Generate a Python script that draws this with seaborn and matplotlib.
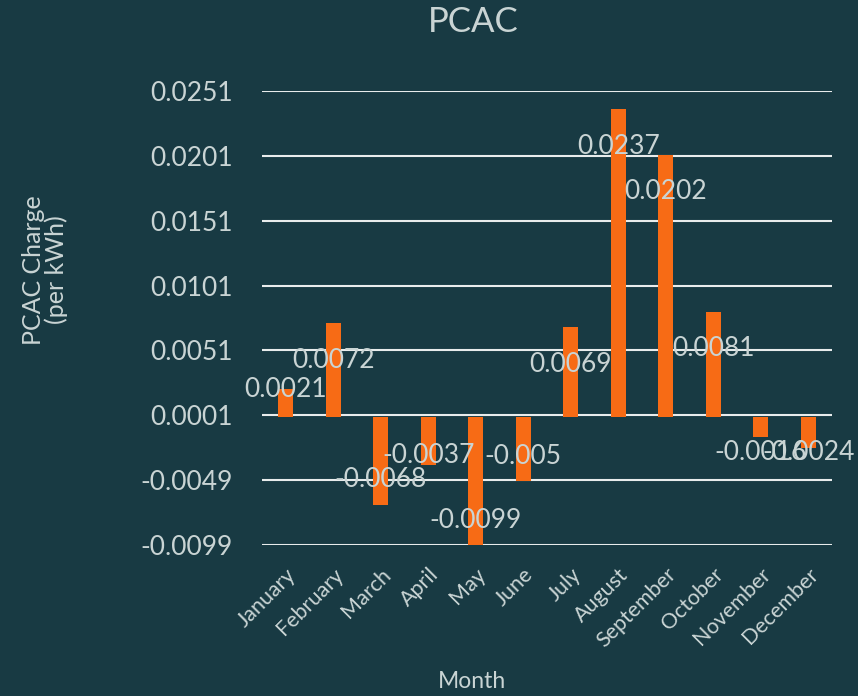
import numpy as np
import pandas as pd
import matplotlib
matplotlib.use('Agg')
import matplotlib.pyplot as plt
import seaborn as sns

months = ['January', 'February', 'March', 'April', 'May', 'June', 'July',
          'August', 'September', 'October', 'November', 'December']
pcac = [0.0021, 0.0072, -0.0068, -0.0037, -0.0099, -0.005, 0.0069,
        0.0237, 0.0202, 0.0081, -0.0016, -0.0024]
yticks = [-0.0099, -0.0049, 0.0001, 0.0051, 0.0101, 0.0151, 0.0201, 0.0251]

BG = '#183a43'
BAR = '#f76b15'
TXT = '#c9d4d4'

sns.set_theme(style='white')
plt.rcParams['font.family'] = ['Lato', 'DejaVu Sans']

df = pd.DataFrame({'Month': months, 'PCAC': pcac})

fig = plt.figure(figsize=(8.58, 6.96), dpi=100, facecolor=BG)
ax = fig.add_axes([262 / 858, 1 - 545 / 696, 570 / 858, 454 / 696])
ax.set_facecolor(BG)

sns.barplot(data=df, x='Month', y='PCAC', color=BAR, saturation=1,
            width=0.32, linewidth=0, ax=ax, zorder=3)

ax.set_ylim(-0.0099, 0.0251)
ax.set_xlim(-0.5, 11.5)
ax.set_yticks(yticks)
ax.set_yticklabels([f'{t:.4f}' for t in yticks])
for t in yticks:
    ax.axhline(t, color='#e8ecec', lw=1.5, zorder=1)
for s in ax.spines.values():
    s.set_visible(False)
ax.tick_params(axis='y', colors=TXT, labelsize=19, length=0, pad=21)
ax.tick_params(axis='x', colors=TXT, labelsize=15.5, length=0, pad=14)
plt.setp(ax.get_xticklabels(), rotation=45, ha='right', rotation_mode='anchor')
ax.set_xlabel('')
ax.set_ylabel('')

# value labels, roughly where the original puts them
for i, v in enumerate(pcac):
    h = abs(v)
    if v > 0:
        off = -37 if h > 0.004 else 0
        ypos = v
    elif h > 0.004:
        off = 25
        ypos = v
    else:
        off = 0
        ypos = min(v + 0.0007, -0.0028)
    ax.annotate(f'{v:g}', (i, ypos), xytext=(0, off), textcoords='offset pixels',
                ha='center', va='center', color=TXT, fontsize=19, zorder=4)

fig.text(473 / 858, 1 - 22 / 696, 'PCAC', ha='center', va='center',
         color=TXT, fontsize=25)
fig.text(472 / 858, 1 - 682 / 696, 'Month', ha='center', va='center',
         color=TXT, fontsize=16.5)
fig.text(45 / 858, 1 - 270 / 696, 'PCAC Charge\n(per kWh)', ha='center',
         va='center', rotation=90, color=TXT, fontsize=18, linespacing=1.0)

fig.savefig('out.png', dpi=100, facecolor=BG)
